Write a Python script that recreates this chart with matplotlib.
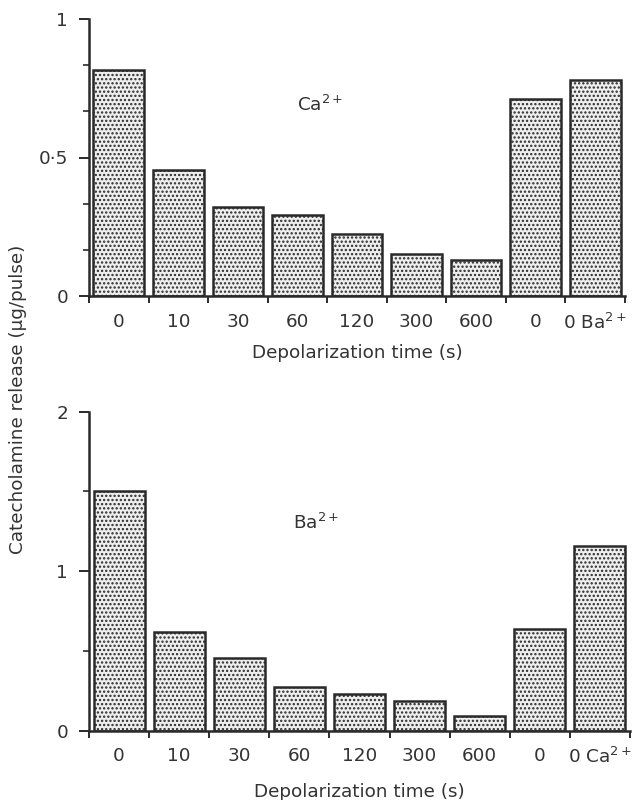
import matplotlib
matplotlib.use("Agg")
import matplotlib.pyplot as plt
from matplotlib.ticker import FixedLocator, NullFormatter

plt.rcParams['font.family'] = ['DejaVu Sans']
plt.rcParams['hatch.color'] = '#3a3a3a'
plt.rcParams['hatch.linewidth'] = 1.1

# Depolarization time categories (s)
times_ca = ['0', '10', '30', '60', '120', '300', '600', '0', r'0 Ba$^{\mathregular{2+}}$']
times_ba = ['0', '10', '30', '60', '120', '300', '600', '0', r'0 Ca$^{\mathregular{2+}}$']

# Catecholamine release (ug/pulse)
release_ca = [0.815, 0.456, 0.321, 0.291, 0.223, 0.152, 0.130, 0.710, 0.780]
release_ba = [1.50, 0.617, 0.458, 0.272, 0.230, 0.188, 0.092, 0.639, 1.160]

ink = '#2a2a2a'
txt = '#333333'
fs = 13.2

fig = plt.figure(figsize=(6.36, 8.0), dpi=100)
ax1 = fig.add_axes([89/636, 1 - 296/800, 536/636, 277/800])
ax2 = fig.add_axes([89/636, 1 - 730.7/800, 541/636, 319/800])


def draw(ax, vals, labels, ymax, major, minor, ylabels, ion, ion_xy, xpad):
    n = len(vals)
    pos = [i + 0.5 for i in range(n)]
    ax.bar(pos, vals, width=0.85, facecolor='#eeeeee', edgecolor=ink,
           linewidth=1.8, hatch='....', zorder=2)
    ax.set_xlim(0, n)
    ax.set_ylim(0, ymax)
    for s in ('top', 'right'):
        ax.spines[s].set_visible(False)
    for s in ('left', 'bottom'):
        ax.spines[s].set_linewidth(1.8)
        ax.spines[s].set_color(ink)
    # boundary ticks on x, labels centred under bars
    ax.xaxis.set_major_locator(FixedLocator(list(range(n + 1))))
    ax.xaxis.set_major_formatter(NullFormatter())
    ax.xaxis.set_minor_locator(FixedLocator(pos))
    ax.set_xticklabels(labels, minor=True)
    ax.tick_params(axis='x', which='major', direction='out', length=5,
                   width=1.4, color=ink)
    ax.tick_params(axis='x', which='minor', length=0, pad=12,
                   labelsize=fs, labelcolor=txt)
    ax.set_yticks(major)
    ax.set_yticklabels(ylabels)
    ax.set_yticks(minor, minor=True)
    ax.tick_params(axis='y', which='major', direction='out', length=7,
                   width=1.4, color=ink, labelsize=fs, labelcolor=txt, pad=8)
    ax.tick_params(axis='y', which='minor', direction='out', length=4,
                   width=1.2, color=ink)
    ax.set_xlabel('Depolarization time (s)', fontsize=fs, color=txt,
                  labelpad=xpad)
    ax.text(ion_xy[0], ion_xy[1], ion, fontsize=fs, color=txt,
            ha='left', va='center')


draw(ax1, release_ca, times_ca, 1.0, [0, 0.5, 1.0],
     [1/6, 2/6, 4/6, 5/6], ['0', '0·5', '1'],
     r'Ca$^{\mathregular{2+}}$', (3.5, 0.69), 8)
draw(ax2, release_ba, times_ba, 2.0, [0, 1, 2],
     [0.5, 1.5], ['0', '1', '2'],
     r'Ba$^{\mathregular{2+}}$', (3.4, 1.30), 11)

fig.text(18/636, 1 - 399/800, 'Catecholamine release (μg/pulse)',
         rotation=90, ha='center', va='center', fontsize=fs, color=txt)

fig.savefig('out.png', dpi=100, facecolor='white')
